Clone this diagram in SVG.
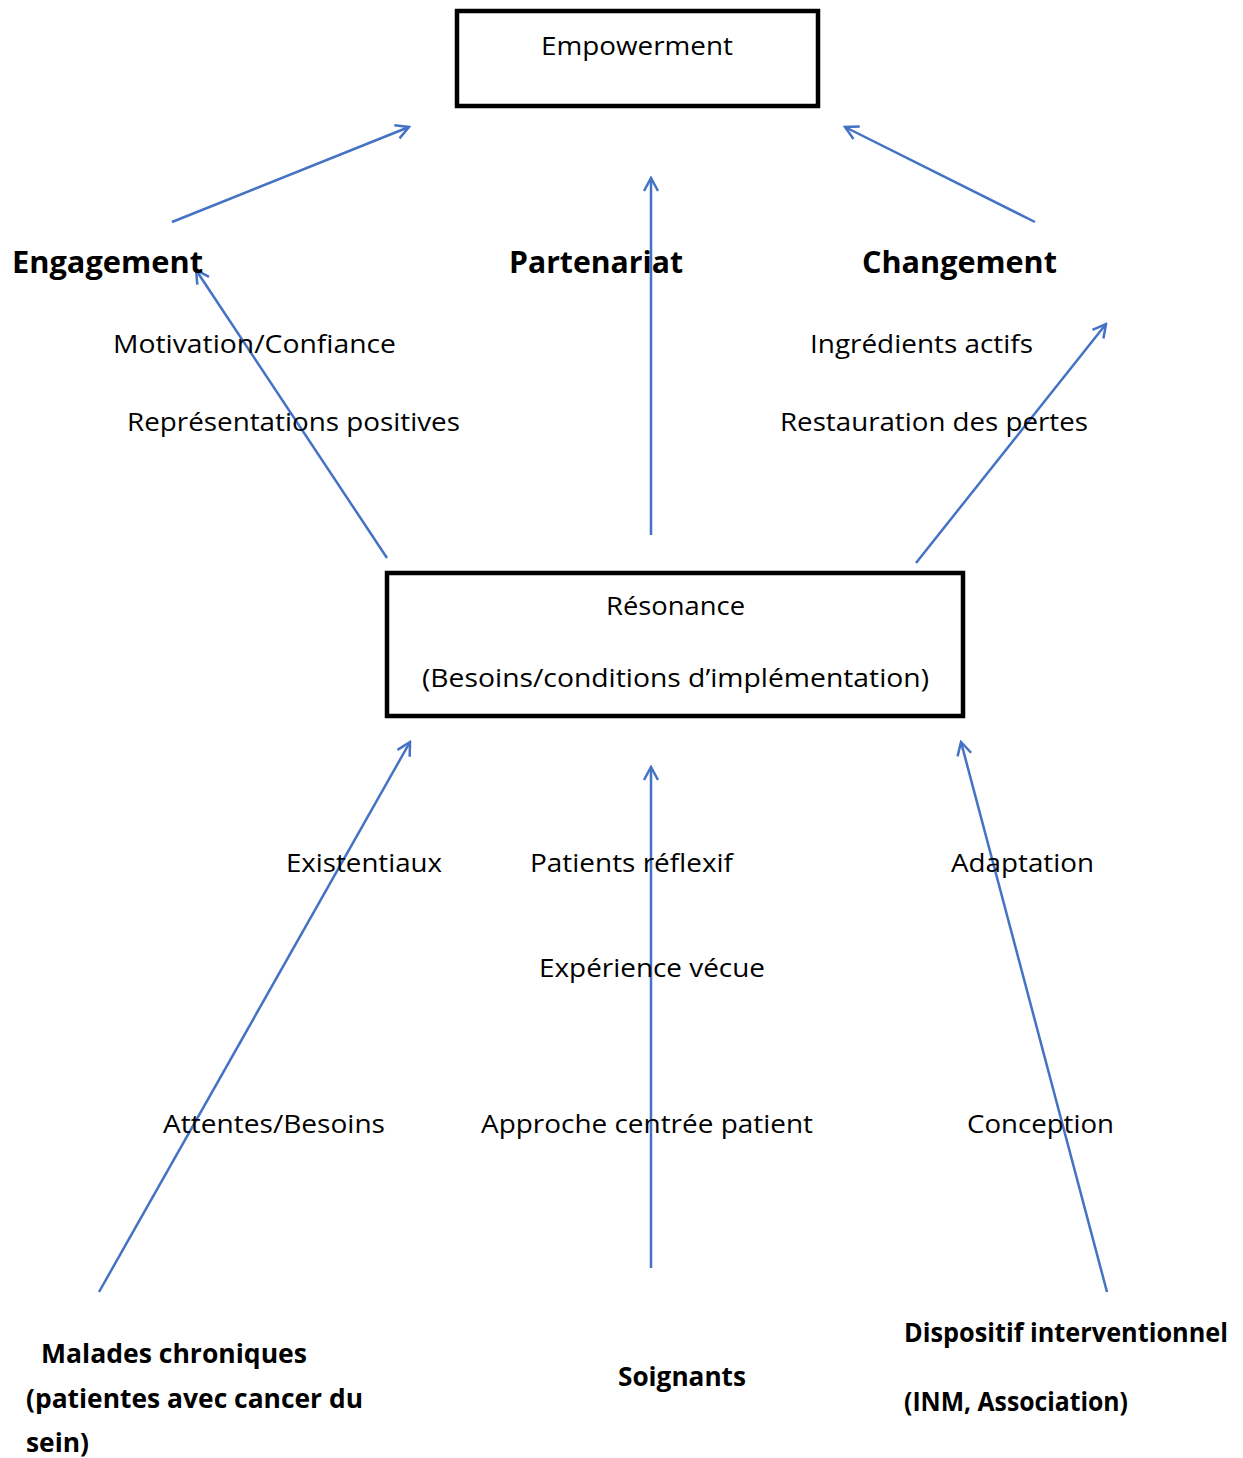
<svg xmlns="http://www.w3.org/2000/svg" width="1243" height="1458" viewBox="0 0 1243 1458">
<style>
  .box { fill: #fff; stroke: #000; stroke-width: 4.5; }
  .t { font-family: "Open Sans", "Noto Sans", "DejaVu Sans", sans-serif; font-size: 26px; fill: #000; }
  .b { font-family: "Open Sans", "Noto Sans", "DejaVu Sans", sans-serif; font-size: 30px; font-weight: bold; fill: #000; }
  .bs { font-family: "Open Sans", "Noto Sans", "DejaVu Sans", sans-serif; font-size: 27px; font-weight: bold; fill: #000; }
  .c { fill: none; stroke: #4472C4; stroke-width: 2.5; marker-end: url(#arr); }
</style>
<defs>
  <marker id="arr" viewBox="0 0 18 18" refX="16" refY="9" markerWidth="18" markerHeight="18" markerUnits="userSpaceOnUse" orient="auto">
    <path d="M3,2 L16,9 L3,16" fill="none" stroke="#4472C4" stroke-width="2.5"/>
  </marker>
</defs>
<rect width="1243" height="1458" fill="#fff"/>

<g id="connectors">
  <line class="c" x1="172" y1="222" x2="409" y2="127"/>
  <line class="c" x1="651" y1="535" x2="651" y2="178"/>
  <line class="c" x1="1035" y1="222" x2="845" y2="127"/>
  <line class="c" x1="387" y1="558" x2="196" y2="270"/>
  <line class="c" x1="916" y1="563" x2="1106" y2="324"/>
  <line class="c" x1="99" y1="1292" x2="410" y2="742"/>
  <line class="c" x1="651" y1="1268" x2="651" y2="767"/>
  <line class="c" x1="1107" y1="1292" x2="961" y2="742"/>
</g>

<g id="empowerment">
  <rect class="box" x="457" y="11" width="361" height="95"/>
  <text class="t" x="541" y="55" textLength="192" lengthAdjust="spacingAndGlyphs">Empowerment</text>
</g>

<g id="engagement">
  <text class="b" x="12" y="273" textLength="191" lengthAdjust="spacingAndGlyphs">Engagement</text>
</g>
<g id="partenariat">
  <text class="b" x="509" y="273" textLength="174" lengthAdjust="spacingAndGlyphs">Partenariat</text>
</g>
<g id="changement">
  <text class="b" x="862" y="273" textLength="195" lengthAdjust="spacingAndGlyphs">Changement</text>
</g>

<g id="labels-top">
  <text class="t" x="113" y="353" textLength="283" lengthAdjust="spacingAndGlyphs">Motivation/Confiance</text>
  <text class="t" x="127" y="431" textLength="333" lengthAdjust="spacingAndGlyphs">Représentations positives</text>
  <text class="t" x="810" y="353" textLength="223" lengthAdjust="spacingAndGlyphs">Ingrédients actifs</text>
  <text class="t" x="780" y="431" textLength="308" lengthAdjust="spacingAndGlyphs">Restauration des pertes</text>
</g>

<g id="resonance">
  <rect class="box" x="387" y="573" width="576" height="143"/>
  <text class="t" x="606" y="615" textLength="139" lengthAdjust="spacingAndGlyphs">Résonance</text>
  <text class="t" x="422" y="687" textLength="507" lengthAdjust="spacingAndGlyphs">(Besoins/conditions d’implémentation)</text>
</g>

<g id="labels-bottom">
  <text class="t" x="286" y="872" textLength="156" lengthAdjust="spacingAndGlyphs">Existentiaux</text>
  <text class="t" x="530" y="872" textLength="203" lengthAdjust="spacingAndGlyphs">Patients réflexif</text>
  <text class="t" x="951" y="872" textLength="143" lengthAdjust="spacingAndGlyphs">Adaptation</text>
  <text class="t" x="539" y="977" textLength="226" lengthAdjust="spacingAndGlyphs">Expérience vécue</text>
  <text class="t" x="163" y="1133" textLength="222" lengthAdjust="spacingAndGlyphs">Attentes/Besoins</text>
  <text class="t" x="481" y="1133" textLength="332" lengthAdjust="spacingAndGlyphs">Approche centrée patient</text>
  <text class="t" x="967" y="1133" textLength="147" lengthAdjust="spacingAndGlyphs">Conception</text>
</g>

<g id="malades">
  <text class="bs" x="41" y="1363" textLength="266" lengthAdjust="spacingAndGlyphs">Malades chroniques</text>
  <text class="bs" x="26" y="1408" textLength="337" lengthAdjust="spacingAndGlyphs">(patientes avec cancer du</text>
  <text class="bs" x="26" y="1452" textLength="63" lengthAdjust="spacingAndGlyphs">sein)</text>
</g>
<g id="soignants">
  <text class="bs" x="618" y="1386" textLength="128" lengthAdjust="spacingAndGlyphs">Soignants</text>
</g>
<g id="dispositif">
  <text class="bs" x="1228" y="1342" text-anchor="end" textLength="324" lengthAdjust="spacingAndGlyphs">Dispositif interventionnel</text>
  <text class="bs" x="904" y="1411" textLength="224" lengthAdjust="spacingAndGlyphs">(INM, Association)</text>
</g>
</svg>
